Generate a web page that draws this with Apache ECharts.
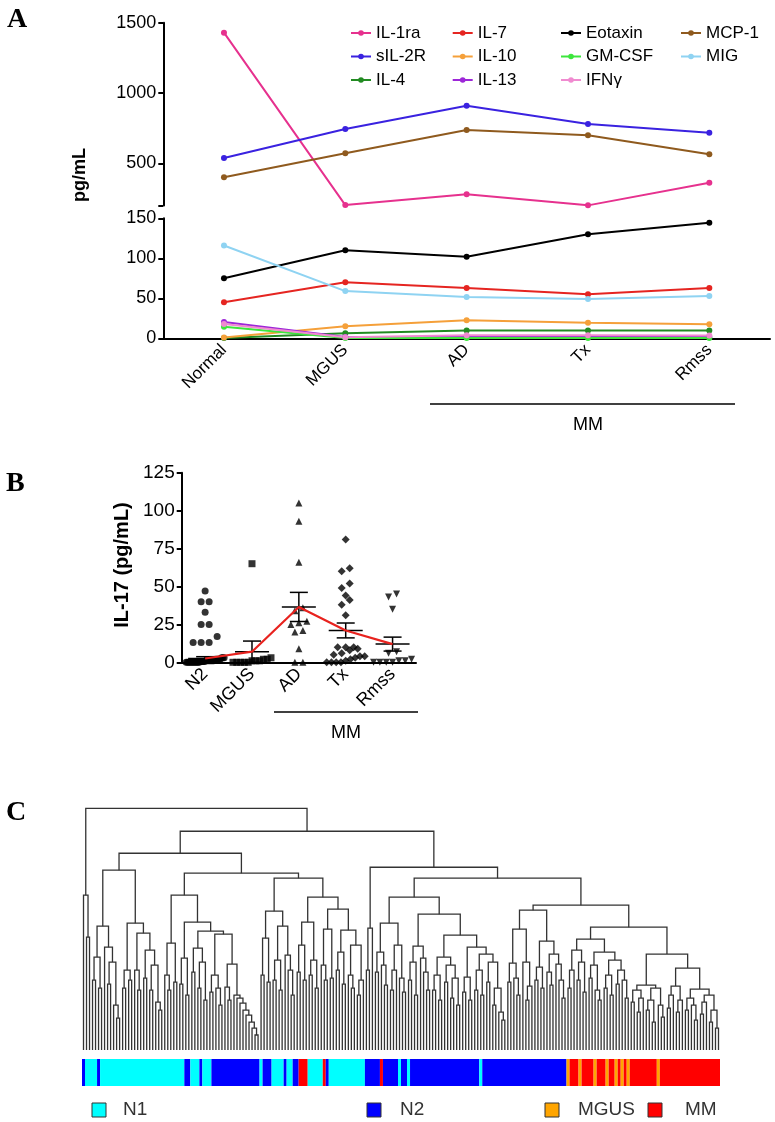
<!DOCTYPE html>
<html><head><meta charset="utf-8">
<script src="https://cdn.jsdelivr.net/npm/echarts@6/dist/echarts.min.js"></script>
<style>html,body{margin:0;padding:0;background:#fff}#c{width:775px;height:1122px}</style>
</head><body><div id="c"></div><script>
// ---------- Panel A data ----------
const stages = ['Normal', 'MGUS', 'AD', 'Tx', 'Rmss'];
const il1ra   = [1429, 203, 280, 201, 362];
const sil2r   = [538, 744, 910, 780, 718];
const mcp1    = [401, 571, 737, 699, 564];
const eotaxin = [75, 110, 102, 130, 144.5];
const il7     = [45, 70, 63, 55, 63];
const mig     = [116, 59, 51.5, 49, 53];
const il10    = [1, 15, 22.5, 19.5, 17.5];
const il4     = [0.5, 6.2, 9.6, 9.6, 9.6];
const il13    = [20.4, 1.5, 1.5, 1.5, 1.5];
const ifng    = [17.9, 1.3, 3.7, 3.7, 3.5];
const gmcsf   = [14.5, 0.5, 0.5, 0.5, 0.5];
const upperTicks = [200, 500, 1000, 1500];
const upperLabels = [500, 1000, 1500];

// ---------- Panel B data ----------
const groupsB = ['N2', 'MGUS', 'AD', 'Tx', 'Rmss'];
const il17N2   = [47, 40, 40, 33, 25, 25, 17, 13, 13, 13, 3, 3, 3, 2, 2, 2, 2, 2, 1, 1, 1, 1, 1, 1, 1, 0.5, 0.5, 0.5, 0.5, 0, 0, 0, 0, 0, 0, 0, 0, 0, 0, 0];
const il17MGUS = [65, 3, 2, 2, 1, 1, 1, 0, 0, 0, 0, 0];
const il17AD   = [105, 93, 66, 36, 34, 27, 26, 25, 21, 20, 9, 0, 0];
const il17Tx   = [81, 62, 60, 52, 49, 44, 41, 38, 31, 10, 10, 10, 9, 8, 6, 5, 4, 4, 3, 2, 1, 0, 0, 0, 0];
const il17Rmss = [45, 43, 35, 7, 6, 2, 1, 1, 0, 0, 0, 0];
const il17Mean = [2.5, 7, 36.5, 21, 12];
const il17Sem  = [1.2, 7, 9.6, 4.9, 4.6];

// ---------- Panel C data (dendrogram: [height, left, right], leaf = 0) ----------
const clA   = [155, 0, [113, 0, 0]];
const clS1  = [124, [93, [70, 0, 0], [62, 0, 0]], [103, 0, [88, [66, 0, 0], [45, 0, [32, 0, 0]]]]];
const clS2  = [127, [80, [62, 0, 0], [70, 0, 0]], [117, [80, 0, [60, 0, 0]], [100, [72, 0, 0], [85, [60, 0, 0], [48, 0, [40, 0, 0]]]]]];
const cl171 = [107, [75, 0, [60, 0, 0]], [68, 0, 0]];
const cl186 = [92, [66, 0, 0], [55, 0, 0]];
const cl197 = [102, [78, 0, 0], [88, [62, 0, 0], [50, 0, 0]]];
const cl213 = [75, [58, 0, 0], [62, 0, [45, 0, 0]]];
const cl223 = [63, 0, [50, 0, 0]];
const clStair = [55, 0, [52, 0, [47, 0, [40, 0, [35, 0, [28, 0, [22, 0, [15, 0, 0]]]]]]]];
const cl263 = [112, [75, 0, 0], [68, 0, 0]];
const cl279 = [124, [90, [70, 0, 0], [60, 0, 0]], [95, 0, [80, 0, [55, 0, 0]]]];
const cl304 = [128, [105, [78, 0, 0], [70, 0, 0]], [90, [75, 0, 0], [62, 0, 0]]];
const cl326 = [121, [85, 0, [70, 0, 0]], [72, 0, 0]];
const cl345 = [120, [98, [80, 0, 0], [66, 0, 0]], [105, [75, 0, [62, 0, 0]], [70, [55, 0, 0], 0]]];
const clB2L = [122, [80, 0, 0], 0];
const cl388 = [127, [98, [78, 0, 0], [85, 0, [65, 0, 0]]], [105, [80, [60, 0, 0], 0], [72, 0, [58, 0, 0]]]];
const cl419 = [104, [88, [70, 0, 0], [55, 0, 0]], [92, 0, [78, 0, [60, 0, 0]]]];
const cl453 = [93, [75, [60, 0, 0], [50, 0, 0]], [85, [68, 0, 0], [72, [52, 0, 0], [45, 0, 0]]]];
const cl490 = [103, [73, [58, 0, 0], [50, 0, 0]], [96, [80, [60, 0, 0], [55, 0, 0]], [88, [68, 0, 0], [62, [45, 0, 0], [38, 0, [30, 0, 0]]]]]];
const cl529 = [121, [87, [68, 0, 0], [72, 0, [55, 0, 0]]], [88, 0, [64, [50, 0, 0], 0]]];
const cl549 = [109, [83, [70, 0, 0], [62, 0, 0]], [96, [78, 0, [65, 0, 0]], [86, 0, [70, 0, [52, 0, 0]]]]];
const cl573 = [100, [80, [62, 0, 0], 0], [88, [70, 0, 0], [58, 0, 0]]];
const cl596 = [98, [85, [72, 0, 0], [60, 0, [50, 0, 0]]], [90, [75, [62, 0, 0], [55, 0, 0]], [80, [66, 0, 0], [70, 0, [52, 0, 0]]]]];
const cl645 = [65, [60, [48, 0, 0], [52, [38, 0, 0], 0]], [62, [50, [40, 0, 0], [28, 0, 0]], [45, 0, [33, 0, 0]]]];
const cl674 = [64, [55, [42, 0, 0], 0], [50, [38, 0, 0], 0]];
const cl698 = [61, [52, [40, 0, 0], [45, 0, [30, 0, 0]]], [55, [48, [36, 0, 0], 0], [40, [28, 0, 0], [22, 0, 0]]]];
const mergeHeights = {B1a: 180, c229: 86, c221: 116, c209: 119, c197b: 128, B1bL: 155, c270: 139, c336: 141, c320: 153, B1bR: 172, B1b: 177, B1: 197,
  c472: 115, c445: 136, c416: 153, c539: 140, c585: 111, c686: 82, c665: 96, c626: 123, c582: 145, B2R: 172, B2: 183, B: 219, root: 242};

const groupNames = ['N1', 'N2', 'MGUS', 'MM'];
const leafGroupRuns = [['N2',1],['N1',4],['N2',1],['N1',28],['N2',2],['N1',3],['N2',1],['N1',3],['N2',16],['N1',1],['N2',3],['N1',4],['N2',1],['N1',2],['N2',2],['MM',3],['N1',5],['MM',1],['N2',1],['N1',12],['N2',5],['MM',1],['N2',5],['N1',1],['N2',2],['N1',1],['N2',23],['N1',1],['N2',28],['MGUS',1],['MM',3],['MGUS',1],['MM',4],['MGUS',1],['MM',3],['MGUS',1],['MM',2],['MGUS',1],['MM',1],['MGUS',1],['MM',1],['MGUS',1],['MM',9],['MGUS',1],['MM',20]];

// ---------- build tree ----------
const H = mergeHeights;
const c229 = [H.c229, cl223, clStair];
const c221 = [H.c221, cl213, c229];
const c209 = [H.c209, cl197, c221];
const c197b = [H.c197b, cl186, c209];
const B1bL = [H.B1bL, cl171, c197b];
const c270 = [H.c270, cl263, cl279];
const c336 = [H.c336, cl326, cl345];
const c320 = [H.c320, cl304, c336];
const B1bR = [H.B1bR, c270, c320];
const B1 = [H.B1, [H.B1a, clS1, clS2], [H.B1b, B1bL, B1bR]];
const c472 = [H.c472, cl453, cl490];
const c445 = [H.c445, cl419, c472];
const c416 = [H.c416, cl388, c445];
const c539 = [H.c539, cl529, cl549];
const c585 = [H.c585, cl573, cl596];
const c686 = [H.c686, cl674, cl698];
const c665 = [H.c665, cl645, c686];
const c626 = [H.c626, c585, c665];
const c582 = [H.c582, c539, c626];
const B2 = [H.B2, clB2L, [H.B2R, c416, c582]];
const tree = [H.root, clA, [H.B, B1, B2]];

const links = [];
const st = {i: 0};
function layout(node) {
  if (!Array.isArray(node)) { const x = st.i + 0.5; st.i++; return {x: x, h: 0}; }
  const l = layout(node[1]), r = layout(node[2]);
  links.push([l.x, l.h, r.x, r.h, node[0]]);
  return {x: (l.x + r.x) / 2, h: node[0]};
}
layout(tree);
const nLeaves = st.i;

const barRects = [];
let pos = 0;
leafGroupRuns.forEach(([g, n]) => { barRects.push([pos, pos + n, groupNames.indexOf(g)]); pos += n; });

// ---------- styles ----------
const FONT = 'Liberation Sans';
const groupColors = ['#00ffff', '#0000ff', '#ffa500', '#ff0000'];
const lineDefs = [
  ['IL-1ra', il1ra, '#e6318e', 0], ['sIL-2R', sil2r, '#3a22e0', 0], ['IL-4', il4, '#228b22', 1],
  ['IL-7', il7, '#e52521', 1], ['IL-10', il10, '#f5a03a', 1], ['IL-13', il13, '#9d27d8', 1],
  ['Eotaxin', eotaxin, '#000000', 1], ['GM-CSF', gmcsf, '#3de63d', 1], ['IFNγ', ifng, '#f08bd0', 1],
  ['MCP-1', mcp1, '#8f5a1e', 0], ['MIG', mig, '#8fd3f2', 1]
];
const legendCols = [['IL-1ra', 'sIL-2R', 'IL-4'], ['IL-7', 'IL-10', 'IL-13'], ['Eotaxin', 'GM-CSF', 'IFNγ'], ['MCP-1', 'MIG']];
const legendLefts = [350, 451.7, 560, 680];

// beeswarm offsets (pixels)
const gridB = {left: 181.7, top: 472.7, width: 234.3, height: 189.6};
const pxPerUnitB = gridB.height / 125;
function swarm(vals, sym, maxHalf) {
  const idx = vals.map((v, i) => i).sort((a, b) => vals[a] - vals[b]);
  const off = new Array(vals.length).fill(0);
  let bin = [], start = null;
  const flush = () => {
    const k = bin.length;
    const step = k > 1 ? Math.min(sym + 1, 2 * maxHalf / (k - 1)) : 0;
    bin.forEach((id, j) => { off[id] = (j - (k - 1) / 2) * step; });
    bin = [];
  };
  idx.forEach(id => {
    const py = vals[id] * pxPerUnitB;
    if (start === null || py - start >= sym) { if (bin.length) flush(); start = py; }
    bin.push(id);
  });
  flush();
  return off;
}
const groupVals = [il17N2, il17MGUS, il17AD, il17Tx, il17Rmss];
const groupSym = ['circle', 'rect', 'triangle', 'diamond', 'triangle'];
const scatterSeries = groupVals.map((vals, gi) => {
  const off = swarm(vals, 7, 19);
  return {
    type: 'scatter', xAxisIndex: 2, yAxisIndex: 2, symbol: groupSym[gi], symbolSize: gi === 3 ? 8 : 7,
    symbolRotate: gi === 4 ? 180 : 0, itemStyle: {color: '#000'}, silent: true, z: 3,
    data: vals.map((v, i) => ({value: [gi, v], symbolOffset: [off[i], 0]}))
  };
});

const axisLineStyle = {lineStyle: {color: '#000', width: 2}};
const tickStyle = {lineStyle: {color: '#000', width: 2}, length: 5};
const plain = v => String(v);

const option = {
  animation: false,
  backgroundColor: '#fff',
  textStyle: {fontFamily: FONT},
  grid: [
    {left: 163.3, right: 5, top: 22.7, height: 182.8},
    {left: 163.3, right: 5, top: 218.3, height: 120},
    {left: gridB.left, width: gridB.width, top: gridB.top, height: gridB.height},
    {left: 82, width: 638, top: 808.3, height: 241.7},
    {left: 82, width: 638, top: 1059, height: 27}
  ],
  xAxis: [
    {gridIndex: 0, type: 'category', data: stages, show: false},
    {gridIndex: 1, type: 'category', data: stages, axisLine: axisLineStyle, axisTick: {show: false},
      axisLabel: {rotate: 45, fontSize: 17, color: '#000', margin: 9, interval: 0, fontFamily: FONT}},
    {gridIndex: 2, type: 'category', data: groupsB, axisLine: axisLineStyle, axisTick: {show: false},
      axisLabel: {rotate: 45, fontSize: 18, color: '#000', margin: 9, interval: 0, fontFamily: FONT}},
    {gridIndex: 3, type: 'value', min: 0, max: nLeaves, show: false},
    {gridIndex: 4, type: 'value', min: 0, max: nLeaves, show: false}
  ],
  yAxis: [
    {gridIndex: 0, type: 'value', min: 200, max: 1500, splitLine: {show: false},
      axisLine: {show: true, ...axisLineStyle}, axisTick: {show: true, ...tickStyle, customValues: upperTicks},
      axisLabel: {fontSize: 18, color: '#000', margin: 7, customValues: upperLabels, formatter: plain, fontFamily: FONT}},
    {gridIndex: 1, type: 'value', min: 0, max: 150, interval: 50, splitLine: {show: false},
      axisLine: {show: true, ...axisLineStyle}, axisTick: {show: true, ...tickStyle},
      axisLabel: {fontSize: 18, color: '#000', margin: 7, formatter: plain, fontFamily: FONT}},
    {gridIndex: 2, type: 'value', min: 0, max: 125, interval: 25, splitLine: {show: false},
      axisLine: {show: true, ...axisLineStyle}, axisTick: {show: true, ...tickStyle},
      axisLabel: {fontSize: 19, color: '#000', margin: 7, formatter: plain, fontFamily: FONT}},
    {gridIndex: 3, type: 'value', min: 0, max: H.root, show: false},
    {gridIndex: 4, type: 'value', min: 0, max: 1, show: false}
  ],
  legend: legendCols.map((col, i) => ({
    data: col, orient: 'vertical', left: legendLefts[i], top: 24, itemWidth: 20, itemHeight: 7, itemGap: 5.5,
    padding: 0, selectedMode: false,
    textStyle: {fontSize: 17, lineHeight: 18, color: '#000', fontFamily: FONT}
  })),
  series: [
    ...lineDefs.map(([name, vals, color, g]) => ({
      name: name, type: 'line', xAxisIndex: g, yAxisIndex: g, data: vals, color: color,
      symbol: 'circle', symbolSize: 6, clip: false, lineStyle: {width: 2, color: color},
      itemStyle: {color: color}, silent: true
    })),
    ...scatterSeries,
    {
      type: 'custom', xAxisIndex: 2, yAxisIndex: 2, z: 4, silent: true,
      data: groupsB.map((g, i) => [i, il17Mean[i], il17Sem[i]]),
      renderItem: function (params, api) {
        const i = api.value(0), m = api.value(1), s = api.value(2);
        const c = api.coord([i, m]), hi = api.coord([i, m + s]), lo = api.coord([i, Math.max(0, m - s)]);
        const st = {stroke: '#000', lineWidth: 1.5};
        return {type: 'group', children: [
          {type: 'line', shape: {x1: c[0] - 17, y1: c[1], x2: c[0] + 17, y2: c[1]}, style: st},
          {type: 'line', shape: {x1: c[0], y1: hi[1], x2: c[0], y2: lo[1]}, style: st},
          {type: 'line', shape: {x1: c[0] - 9, y1: hi[1], x2: c[0] + 9, y2: hi[1]}, style: st},
          {type: 'line', shape: {x1: c[0] - 9, y1: lo[1], x2: c[0] + 9, y2: lo[1]}, style: st}
        ]};
      }
    },
    {type: 'line', xAxisIndex: 2, yAxisIndex: 2, data: il17Mean, symbol: 'none', z: 5, silent: true,
      lineStyle: {color: '#e8231f', width: 2.2}},
    {
      type: 'custom', xAxisIndex: 3, yAxisIndex: 3, silent: true, data: links,
      renderItem: function (params, api) {
        const p1 = api.coord([api.value(0), api.value(1)]);
        const p2 = api.coord([api.value(0), api.value(4)]);
        const p3 = api.coord([api.value(2), api.value(4)]);
        const p4 = api.coord([api.value(2), api.value(3)]);
        return {type: 'polyline', shape: {points: [p1, p2, p3, p4]}, style: {stroke: '#333', lineWidth: 1.3, fill: null}};
      }
    },
    {
      type: 'custom', xAxisIndex: 4, yAxisIndex: 4, silent: true, data: barRects,
      renderItem: function (params, api) {
        const a = api.coord([api.value(0), 1]), b = api.coord([api.value(1), 0]);
        return {type: 'rect', shape: {x: a[0], y: a[1], width: b[0] - a[0], height: b[1] - a[1]},
          style: {fill: groupColors[api.value(2)]}};
      }
    }
  ],
  graphic: [
    {type: 'text', left: 7, top: 6, style: {text: 'A', font: 'bold 28px "Liberation Serif"', fill: '#000'}},
    {type: 'text', left: 6, top: 470, style: {text: 'B', font: 'bold 28px "Liberation Serif"', fill: '#000'}},
    {type: 'text', left: 6, top: 799, style: {text: 'C', font: 'bold 28px "Liberation Serif"', fill: '#000'}},
    {type: 'text', x: 80, y: 175, rotation: Math.PI / 2, style: {text: 'pg/mL', font: 'bold 18px "Liberation Sans"', fill: '#000', align: 'center', verticalAlign: 'middle'}},
    {type: 'text', x: 122, y: 565, rotation: Math.PI / 2, style: {text: 'IL-17 (pg/mL)', font: 'bold 20px "Liberation Sans"', fill: '#000', align: 'center', verticalAlign: 'middle'}},
    {type: 'line', shape: {x1: 430, y1: 404, x2: 735, y2: 404}, style: {stroke: '#000', lineWidth: 1.5}},
    {type: 'text', x: 588, y: 425, style: {text: 'MM', font: '18px "Liberation Sans"', fill: '#000', align: 'center', verticalAlign: 'middle'}},
    {type: 'line', shape: {x1: 274, y1: 712, x2: 418, y2: 712}, style: {stroke: '#000', lineWidth: 1.5}},
    {type: 'text', x: 346, y: 733, style: {text: 'MM', font: '18px "Liberation Sans"', fill: '#000', align: 'center', verticalAlign: 'middle'}},
    ...[[92, 123, 0], [367, 400, 1], [545, 578, 2], [648, 685, 3]].flatMap(([sx, tx, gi]) => [
      {type: 'rect', shape: {x: sx, y: 1103, width: 14, height: 14}, style: {fill: groupColors[gi], stroke: '#333', lineWidth: 1}},
      {type: 'text', x: tx, y: 1110, style: {text: groupNames[gi], font: '19px "Liberation Sans"', fill: '#333', verticalAlign: 'middle'}}
    ])
  ]
};
const chart = echarts.init(document.getElementById('c'), null, {renderer: 'canvas'});
chart.setOption(option);
</script></body></html>
